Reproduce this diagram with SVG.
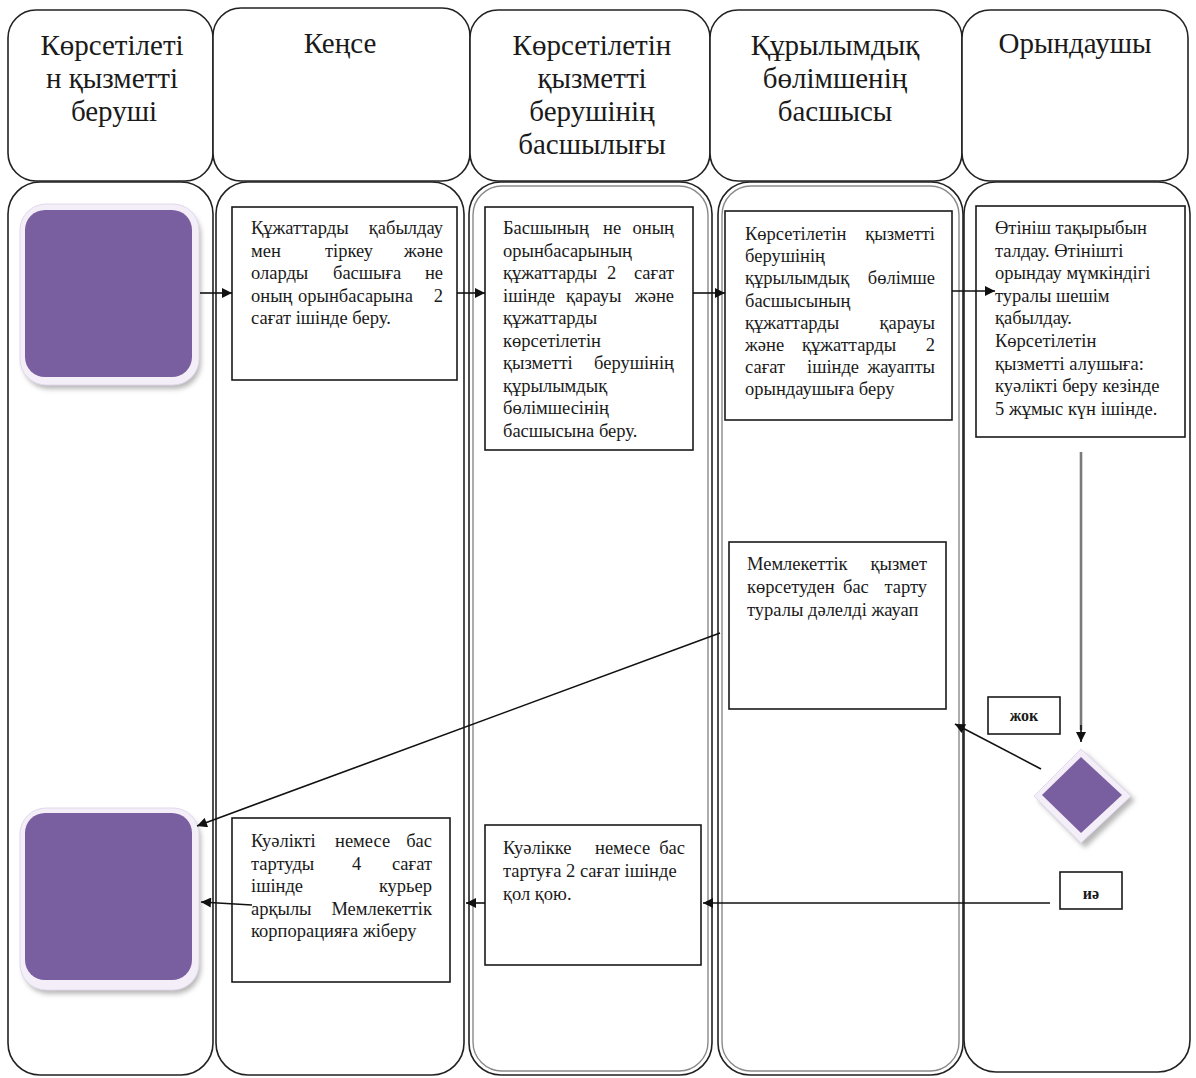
<svg xmlns="http://www.w3.org/2000/svg" width="1196" height="1078" viewBox="0 0 1196 1078">
<defs>
<style>
.lane{fill:#fff;stroke:#222;stroke-width:1.6}
.inner{fill:none;stroke:#8a8a8a;stroke-width:1.4}
.hd{font-family:"Liberation Serif","Times New Roman",serif;font-size:29px;fill:#1a1a1a;text-anchor:middle}
.box{fill:#fff;stroke:#1a1a1a;stroke-width:1.6}
.t{font-family:"Liberation Serif","Times New Roman",serif;font-size:18.5px;fill:#1a1a1a}
.e{text-anchor:end}
.m{text-anchor:middle}
.s{font-size:16px;font-weight:bold}
.conn{fill:none;stroke:#111;stroke-width:1.6;marker-end:url(#ah)}
.purple{fill:#7A5FA0}
.glow{fill:#F3EEF7;stroke:#E2D8EC;stroke-width:1}
.shadow{fill:#9a9a9a;opacity:.7}
</style>
<marker id="ah" viewBox="0 0 10 10" refX="10" refY="5" markerWidth="13" markerHeight="10" markerUnits="userSpaceOnUse" orient="auto"><path d="M0,0 L10,5 L0,10 z" fill="#111"/></marker>
<filter id="blur" x="-20%" y="-20%" width="140%" height="140%"><feGaussianBlur stdDeviation="2.5"/></filter>
</defs>
<rect width="1196" height="1078" fill="#fff"/>

<g id="lanes">
<rect class="lane" x="8" y="182" width="205" height="893" rx="32"/>
<rect class="lane" x="216" y="182" width="248" height="893" rx="32"/>
<rect class="lane" x="469" y="182" width="243" height="893" rx="32"/>
<rect class="inner" x="473" y="186" width="235" height="885" rx="29"/>
<rect class="lane" x="718" y="182" width="245" height="893" rx="32"/>
<rect class="inner" x="722" y="186" width="237" height="885" rx="29"/>
<rect class="lane" x="964" y="182" width="226" height="890" rx="32"/>
<rect class="lane" x="8" y="10" width="205" height="171" rx="28"/>
<rect class="lane" x="213" y="8" width="257" height="173" rx="28"/>
<rect class="lane" x="470" y="10" width="240" height="171" rx="28"/>
<rect class="lane" x="710" y="10" width="252" height="171" rx="28"/>
<rect class="lane" x="962" y="10" width="226" height="171" rx="28"/>
<text class="hd" x="112" y="55">Көрсетілеті</text>
<text class="hd" x="112" y="88">н қызметті</text>
<text class="hd" x="114" y="121">беруші</text>
<text class="hd" x="340" y="53">Кеңсе</text>
<text class="hd" x="592" y="55">Көрсетілетін</text>
<text class="hd" x="592" y="88">қызметті</text>
<text class="hd" x="592" y="121">берушінің</text>
<text class="hd" x="592" y="154">басшылығы</text>
<text class="hd" x="835" y="55">Құрылымдық</text>
<text class="hd" x="835" y="88">бөлімшенің</text>
<text class="hd" x="835" y="121">басшысы</text>
<text class="hd" x="1075" y="53">Орындаушы</text>
</g>

<g id="start">
<rect class="shadow" x="23" y="209" width="178" height="180" rx="26" filter="url(#blur)"/>
<rect class="glow" x="20" y="204" width="179" height="181" rx="26"/>
<rect class="purple" x="25" y="210" width="167" height="167" rx="20"/>
</g>

<g id="end">
<rect class="shadow" x="23" y="813" width="178" height="181" rx="26" filter="url(#blur)"/>
<rect class="glow" x="20" y="808" width="179" height="182" rx="26"/>
<rect class="purple" x="25" y="813" width="167" height="167" rx="20"/>
</g>

<g id="box1">
<rect class="box" x="232" y="207" width="225" height="173"/>
<text class="t" x="251" y="234">Құжаттарды</text><text class="t e" x="443" y="234">қабылдау</text>
<text class="t" x="251" y="256.5">мен</text><text class="t" x="325" y="256.5">тіркеу</text><text class="t e" x="443" y="256.5">және</text>
<text class="t" x="251" y="279">оларды</text><text class="t" x="333" y="279">басшыға</text><text class="t e" x="443" y="279">не</text>
<text class="t" x="251" y="301.5">оның</text><text class="t" x="298" y="301.5">орынбасарына</text><text class="t e" x="443" y="301.5">2</text>
<text class="t" x="251" y="324">сағат ішінде беру.</text>
</g>

<g id="box2">
<rect class="box" x="485" y="207" width="208" height="243"/>
<text class="t" x="503" y="234">Басшының</text><text class="t" x="603" y="234">не</text><text class="t e" x="674" y="234">оның</text>
<text class="t" x="503" y="256.5">орынбасарының</text>
<text class="t" x="503" y="279">құжаттарды</text><text class="t" x="607" y="279">2</text><text class="t e" x="674" y="279">сағат</text>
<text class="t" x="503" y="301.5">ішінде</text><text class="t" x="566" y="301.5">қарауы</text><text class="t e" x="674" y="301.5">және</text>
<text class="t" x="503" y="324">құжаттарды</text>
<text class="t" x="503" y="346.5">көрсетілетін</text>
<text class="t" x="503" y="369">қызметті</text><text class="t e" x="674" y="369">берушінің</text>
<text class="t" x="503" y="391.5">құрылымдық</text>
<text class="t" x="503" y="414">бөлімшесінің</text>
<text class="t" x="503" y="436.5">басшысына беру.</text>
</g>

<g id="box3">
<rect class="box" x="725" y="211" width="227" height="209"/>
<text class="t" x="745" y="240">Көрсетілетін</text><text class="t e" x="935" y="240">қызметті</text>
<text class="t" x="745" y="262.2">берушінің</text>
<text class="t" x="745" y="284.4">құрылымдық</text><text class="t e" x="935" y="284.4">бөлімше</text>
<text class="t" x="745" y="306.6">басшысының</text>
<text class="t" x="745" y="328.8">құжаттарды</text><text class="t e" x="935" y="328.8">қарауы</text>
<text class="t" x="745" y="351">және</text><text class="t" x="802" y="351">құжаттарды</text><text class="t e" x="935" y="351">2</text>
<text class="t" x="745" y="373.2">сағат</text><text class="t" x="807" y="373.2">ішінде</text><text class="t e" x="935" y="373.2">жауапты</text>
<text class="t" x="745" y="395.4">орындаушыға беру</text>
</g>

<g id="box4">
<rect class="box" x="976" y="206" width="209" height="231"/>
<text class="t" x="995" y="234">Өтініш тақырыбын</text>
<text class="t" x="995" y="256.6">талдау. Өтінішті</text>
<text class="t" x="995" y="279.2">орындау мүмкіндігі</text>
<text class="t" x="995" y="301.8">туралы шешім</text>
<text class="t" x="995" y="324.4">қабылдау.</text>
<text class="t" x="995" y="347">Көрсетілетін</text>
<text class="t" x="995" y="369.6">қызметті алушыға:</text>
<text class="t" x="995" y="392.2">куәлікті беру кезінде</text>
<text class="t" x="995" y="414.8">5 жұмыс күн ішінде.</text>
</g>

<g id="box5">
<rect class="box" x="729" y="542" width="217" height="167"/>
<text class="t" x="747" y="570">Мемлекеттік</text><text class="t e" x="927" y="570">қызмет</text>
<text class="t" x="747" y="593">көрсетуден</text><text class="t" x="843" y="593">бас</text><text class="t e" x="927" y="593">тарту</text>
<text class="t" x="747" y="615.5">туралы дәлелді жауап</text>
</g>

<g id="decision">
<polygon class="shadow" points="1085,753 1038,800 1085,848 1135,800" filter="url(#blur)"/>
<polygon class="glow" points="1081,749 1034,796 1081,843 1131,796"/>
<polygon class="purple" points="1081,757 1042,795 1081,833 1122,795"/>
</g>

<g id="label-no">
<rect class="box" x="988" y="697" width="72" height="37"/>
<text class="t s m" x="1024" y="721">жок</text>
</g>

<g id="label-yes">
<rect class="box" x="1060" y="872" width="62" height="37"/>
<text class="t s m" x="1091" y="899">иә</text>
</g>

<g id="box6">
<rect class="box" x="232" y="818" width="218" height="164"/>
<text class="t" x="251" y="847">Куәлікті</text><text class="t" x="335" y="847">немесе</text><text class="t e" x="432" y="847">бас</text>
<text class="t" x="251" y="869.5">тартуды</text><text class="t" x="352" y="869.5">4</text><text class="t e" x="432" y="869.5">сағат</text>
<text class="t" x="251" y="892">ішінде</text><text class="t e" x="432" y="892">курьер</text>
<text class="t" x="251" y="914.5">арқылы</text><text class="t e" x="432" y="914.5">Мемлекеттік</text>
<text class="t" x="251" y="937">корпорацияға жіберу</text>
</g>

<g id="box7">
<rect class="box" x="485" y="825" width="216" height="140"/>
<text class="t" x="503" y="854">Куәлікке</text><text class="t" x="595" y="854">немесе</text><text class="t e" x="685" y="854">бас</text>
<text class="t" x="503" y="877">тартуға 2 сағат ішінде</text>
<text class="t" x="503" y="900">қол қою.</text>
</g>

<g id="connectors">
<path class="conn" d="M200,293 L232,293"/>
<path class="conn" d="M457,293 L485,293"/>
<path class="conn" d="M693,293 L725,293"/>
<path class="conn" d="M952,291 L995,291"/>
<path d="M1081,452 L1081,730" fill="none" stroke="#7a7a7a" stroke-width="2.6"/>
<path class="conn" d="M1081,725 L1081,742"/>
<path class="conn" d="M1041,769 L955,724"/>
<path class="conn" d="M720,633 L197,826"/>
<path class="conn" d="M1050,903 L703,903"/>
<path class="conn" d="M485,903 L466,903"/>
<path class="conn" d="M252,905 L201,902"/>
</g>
</svg>
